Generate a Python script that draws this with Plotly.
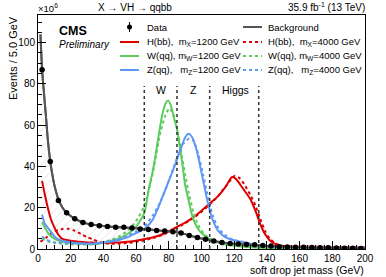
import plotly.graph_objects as go

# ---------------- data ----------------
bin_centers = [2.5, 7.5, 12.5, 17.5, 22.5, 27.5, 32.5, 37.5, 42.5, 47.5,
               52.5, 57.5, 62.5, 67.5, 72.5, 77.5, 82.5, 87.5, 92.5, 97.5,
               102.5, 107.5, 112.5, 117.5, 122.5, 127.5, 132.5, 137.5, 142.5, 147.5,
               152.5, 157.5, 162.5, 167.5, 172.5, 177.5, 182.5, 187.5, 192.5, 197.5]
data_events = [86.9, 42.4, 23.5, 17.6, 14.7, 12.9, 11.9, 11.3, 10.9, 10.6,
               10.5, 10.2, 9.7, 9.5, 9.0, 8.7, 8.4, 7.7, 6.6, 5.6,
               4.7, 3.9, 3.2, 2.7, 2.4, 2.2, 2.0, 1.7, 1.4, 1.1,
               1.0, 0.9, 0.8, 0.7, 0.6, 0.6, 0.5, 0.4, 0.4, 0.3]

bkg_mass = [1.5, 2.5, 3.5, 5, 6, 7.5, 9, 10, 12.5, 15, 17.5, 20, 22.5, 25, 27.5, 30,
            35, 40, 45, 50, 55, 60, 65, 70, 75, 80, 85, 90, 95, 100, 105, 110,
            115, 120, 125, 130, 135, 140, 150, 160, 170, 180, 190, 200]
bkg_events = [104, 87, 77, 63, 53, 42.5, 35, 31, 24, 20, 17.6, 16, 14.7, 13.7, 12.9, 12.3,
              11.6, 11.1, 10.75, 10.55, 10.35, 10.1, 9.65, 9.3, 8.85, 8.55, 8.1, 7.2, 6.1, 5.1, 4.3, 3.55,
              2.95, 2.5, 2.25, 2.05, 1.8, 1.5, 1.05, 0.8, 0.65, 0.5, 0.4, 0.3]

h1200_mass = [2.5, 4, 6, 8, 10, 12, 14, 16, 20, 25, 30, 35, 40, 45, 50, 55, 60, 65, 70, 75,
              80, 85, 90, 95, 100, 105, 110, 115, 118.5, 121, 124.5, 127, 130, 133, 136, 139,
              142, 145, 150, 160, 180, 200]
h1200_events = [33, 27, 20, 14.2, 10.5, 7.5, 5.5, 4.6, 4.0, 3.5, 3.2, 3.0, 2.9, 3.0, 3.2, 3.5, 4.0, 4.8, 5.6, 6.8,
                8.6, 10.7, 12.8, 15.3, 18.5, 22, 25.5, 30.5, 34.8, 34.0, 30.3, 27.5, 24, 18.5, 12, 7,
                4, 2.5, 1.4, 1.1, 1.0, 0.9]

h4000_mass = [1.5, 5, 10, 15, 18.5, 22, 27, 30, 34, 38, 42, 45, 50, 55, 60, 65, 70, 75, 80, 85,
              90, 95, 100, 105, 110, 115, 120.5, 123, 126, 130, 133, 136, 139, 142, 145, 150,
              160, 200]
h4000_events = [3.5, 5.5, 8.5, 9.7, 9.8, 9.0, 7.0, 5.8, 4.5, 3.3, 2.6, 2.5, 2.6, 2.9, 3.4, 4.2, 5.2, 6.5, 8.2, 10.2,
                12.5, 15, 18, 21.5, 25.5, 30.5, 35.5, 34.5, 31.5, 26, 21, 14.5, 8.5, 4.8, 2.8, 1.5,
                1.1, 0.9]

w1200_mass = [2.5, 4, 7, 11, 15, 20, 25, 30, 35, 40, 45, 50, 55, 60, 65, 68, 70, 72, 74, 76,
              78, 79.7, 81.5, 83, 85, 87, 88.5, 90, 92, 94, 96, 99, 103, 107, 111, 116, 123,
              130, 150, 200]
w1200_events = [13, 10.5, 6.9, 4.5, 3.5, 2.9, 2.5, 2.3, 2.3, 3.0, 4.0, 5.3, 7.4, 10.8, 17.4, 30, 37, 46, 56, 65,
                70.5, 71.9, 69, 64, 58, 48, 40, 31, 24, 17, 12.5, 8.5, 5.8, 4.0, 2.9, 2.0, 1.3,
                0.9, 0.5, 0.3]

w4000_mass = [2.5, 5, 10, 20, 30, 40, 45, 50, 55, 60, 65, 70, 75, 78, 80.3, 83, 85, 88, 90, 92,
              95, 98, 102, 107, 112, 120, 130, 150, 200]
w4000_events = [5, 4, 3, 2.3, 2.2, 3.3, 4.5, 6.3, 9, 13.5, 21, 36, 57, 65, 68.2, 65, 59, 45, 36, 28,
                18, 11.5, 7, 4.3, 3, 1.8, 1, 0.5, 0.3]

z1200_mass = [2.5, 4, 7, 11, 15, 20, 25, 30, 35, 40, 45, 50, 55, 60, 65, 70, 73, 76, 79, 83,
              87, 90, 92, 94, 97, 100, 103, 106, 110, 114, 118, 123, 128, 135, 145, 160, 200]
z1200_events = [16.6, 12.5, 9.3, 5.3, 4.0, 3.3, 2.8, 2.6, 2.6, 3.0, 3.6, 4.5, 5.8, 7.7, 9.7, 14, 19, 25, 31, 39,
                48, 54, 55.8, 54.5, 48, 37, 25.5, 16, 9, 6, 4.6, 3.7, 2.9, 1.6, 1.0, 0.8, 0.6]

z4000_mass = [2.5, 5, 10, 20, 30, 40, 50, 60, 65, 70, 75, 80, 85, 89, 92.5, 95, 98, 101, 104, 107,
              110, 114, 118, 123, 128, 135, 145, 160, 200]
z4000_events = [6, 4.5, 3.3, 2.6, 2.5, 3.2, 5, 8.5, 11, 16, 23, 33, 44, 51, 53.5, 52.5, 46, 36, 25, 16,
                10.5, 7, 5, 3.8, 3, 1.8, 1.1, 0.8, 0.6]

window_edges = [65, 85, 105, 135]
window_labels = ["W", "Z", "Higgs"]
window_label_mass = [75.5, 95, 120.5]
window_top = 79
label_height = 77

x_range = [0, 200]
y_range = [0, 113.4]
x_ticks = [0, 20, 40, 60, 80, 100, 120, 140, 160, 180, 200]
y_ticks = [0, 20, 40, 60, 80, 100]

# ---------------- styling ----------------
FONT = "Liberation Sans, Arial, DejaVu Sans, sans-serif"
RED = "#dd0000"
GREEN = "#5ccc5c"
BLUE = "#5f97f5"
GRAY = "#555555"

W, H = 386, 277
L, R, T, B = 38, 21, 15, 28
pw, ph = W - L - R, H - T - B


def px(xp):
    return (xp - L) / pw


def py(yp):
    return (H - B - yp) / ph


fig = go.Figure()

# background with hatched band
fig.add_trace(go.Scatter(
    x=bkg_mass, y=bkg_events, mode="lines",
    line=dict(color=GRAY, width=2, shape="spline", smoothing=0.6),
    fill="tozeroy", fillcolor="rgba(0,0,0,0)",
    fillpattern=dict(shape="/", fgcolor="#b8b8b8", bgcolor="rgba(255,255,255,0)", size=6, solidity=0.12),
    showlegend=False, hoverinfo="skip"))

signals = [
    (h1200_mass, h1200_events, RED, "solid"),
    (h4000_mass, h4000_events, RED, "dot"),
    (w1200_mass, w1200_events, GREEN, "solid"),
    (w4000_mass, w4000_events, GREEN, "dot"),
    (z1200_mass, z1200_events, BLUE, "solid"),
    (z4000_mass, z4000_events, BLUE, "dot"),
]
for xs, ys, col, dash in signals:
    fig.add_trace(go.Scatter(
        x=xs, y=ys, mode="lines",
        line=dict(color=col, width=2, dash=dash, shape="spline", smoothing=0.6),
        showlegend=False, hoverinfo="skip"))

# background line on top of signals
fig.add_trace(go.Scatter(
    x=bkg_mass, y=bkg_events, mode="lines",
    line=dict(color=GRAY, width=2, shape="spline", smoothing=0.6),
    showlegend=False, hoverinfo="skip"))

# data
fig.add_trace(go.Scatter(
    x=bin_centers, y=data_events, mode="markers",
    marker=dict(color="black", size=5.5),
    showlegend=False, hoverinfo="skip"))

# mass windows
for xe in window_edges:
    fig.add_shape(type="line", xref="x", yref="y", x0=xe, x1=xe, y0=0, y1=window_top,
                  line=dict(color="#333333", width=1.5, dash="dot"))
for lab, xm in zip(window_labels, window_label_mass):
    fig.add_annotation(x=xm, y=label_height, xref="x", yref="y", text=lab, showarrow=False,
                       font=dict(size=10.5, color="black", family=FONT), xanchor="center", yanchor="middle")

# ---------------- manual legend ----------------
rows = [27, 42, 56, 70]
left_entries = [
    ("data", None, None, "Data"),
    ("line", RED, "solid", "H(bb),  m<sub>X</sub>=1200 GeV"),
    ("line", GREEN, "solid", "W(qq), m<sub>W</sub>=1200 GeV"),
    ("line", BLUE, "solid", "Z(qq),   m<sub>Z</sub>=1200 GeV"),
]
right_entries = [
    ("line", GRAY, "solid", "Background"),
    ("line", RED, "dot", "H(bb),  m<sub>X</sub>=4000 GeV"),
    ("line", GREEN, "dot", "W(qq), m<sub>W</sub>=4000 GeV"),
    ("line", BLUE, "dot", "Z(qq),   m<sub>Z</sub>=4000 GeV"),
]
for entries, sx0, sx1, tx in [(left_entries, 120, 139, 145), (right_entries, 243, 262, 266)]:
    for (kind, col, dash, label), yr in zip(entries, rows):
        if kind == "data":
            cx = (sx0 + sx1) / 2
            fig.add_shape(type="line", xref="paper", yref="paper", x0=px(cx), x1=px(cx),
                          y0=py(yr - 5), y1=py(yr + 5), line=dict(color="black", width=1))
            fig.add_shape(type="circle", xref="paper", yref="paper", x0=px(cx - 2.5), x1=px(cx + 2.5),
                          y0=py(yr + 2.5), y1=py(yr - 2.5), fillcolor="black", line=dict(color="black", width=0))
        else:
            fig.add_shape(type="line", xref="paper", yref="paper", x0=px(sx0), x1=px(sx1),
                          y0=py(yr), y1=py(yr), line=dict(color=col, width=2, dash=dash))
        fig.add_annotation(x=px(tx), y=py(yr), xref="paper", yref="paper", text=label, showarrow=False,
                           xanchor="left", yanchor="middle", font=dict(size=9.5, color="black", family=FONT))

# CMS labels
fig.add_annotation(x=px(57), y=py(31), xref="paper", yref="paper", text="<b>CMS</b>", showarrow=False,
                   xanchor="left", yanchor="middle", font=dict(size=12.5, color="black", family=FONT))
fig.add_annotation(x=px(57), y=py(44), xref="paper", yref="paper", text="<i>Preliminary</i>", showarrow=False,
                   xanchor="left", yanchor="middle", font=dict(size=10, color="black", family=FONT))

# header texts (sit just above the frame)
fig.add_annotation(x=px(97), y=py(14.5), xref="paper", yref="paper", text="X → VH → qqbb", showarrow=False,
                   xanchor="left", yanchor="bottom", borderpad=0,
                   font=dict(size=10, color="black", family=FONT))
fig.add_annotation(x=px(366), y=py(14.5), xref="paper", yref="paper", text="35.9 fb<sup>-1</sup> (13 TeV)",
                   showarrow=False, xanchor="right", yanchor="bottom", borderpad=0,
                   font=dict(size=10, color="black", family=FONT))
fig.add_annotation(x=px(37), y=py(15.5), xref="paper", yref="paper", text="×10<sup>6</sup>", showarrow=False,
                   xanchor="left", yanchor="bottom", borderpad=0,
                   font=dict(size=9.5, color="black", family=FONT))

# axis titles
fig.add_annotation(x=px(366), y=py(270), xref="paper", yref="paper", text="soft drop jet mass (GeV)",
                   showarrow=False, xanchor="right", yanchor="middle",
                   font=dict(size=10.5, color="black", family=FONT))
fig.add_annotation(x=px(13), y=py(14), xref="paper", yref="paper", text="Events / 5.0 GeV",
                   showarrow=False, textangle=-90, xanchor="center", yanchor="top",
                   font=dict(size=11, color="black", family=FONT))

tick_common = dict(
    showgrid=False, zeroline=False, ticks="inside", ticklen=8, tickwidth=1, tickcolor="black",
    tickfont=dict(size=10, color="black", family=FONT),
)
minor_common = dict(ticks="inside", ticklen=4, dtick=5, tick0=0, tickcolor="black", showgrid=False)

fig.update_layout(
    width=W, height=H, margin=dict(l=L, r=R, t=T, b=B, pad=0),
    paper_bgcolor="white", plot_bgcolor="white",
    font=dict(family=FONT, size=10, color="black"),
    showlegend=False,
    xaxis=dict(range=x_range, tickvals=x_ticks, ticktext=[str(v) for v in x_ticks],
               showline=True, linecolor="black", linewidth=1, mirror=True,
               minor=minor_common, **tick_common),
    yaxis=dict(range=y_range, tickvals=y_ticks, ticktext=[str(v) for v in y_ticks],
               showline=True, linecolor="black", linewidth=1, mirror=True,
               minor=minor_common, **tick_common),
    # top and right tick rows (ticks pointing inward, no labels)
    xaxis2=dict(range=x_range, tickvals=x_ticks, overlaying="x", side="top", anchor="y",
                showticklabels=False, showline=False, minor=minor_common, **tick_common),
    yaxis2=dict(range=y_range, tickvals=y_ticks, overlaying="y", side="right", anchor="x",
                showticklabels=False, showline=False, minor=minor_common, **tick_common),
)

fig.write_html("out.html", config={"displayModeBar": False},
               post_script="document.body.style.margin='0px';document.body.style.overflow='hidden';")
